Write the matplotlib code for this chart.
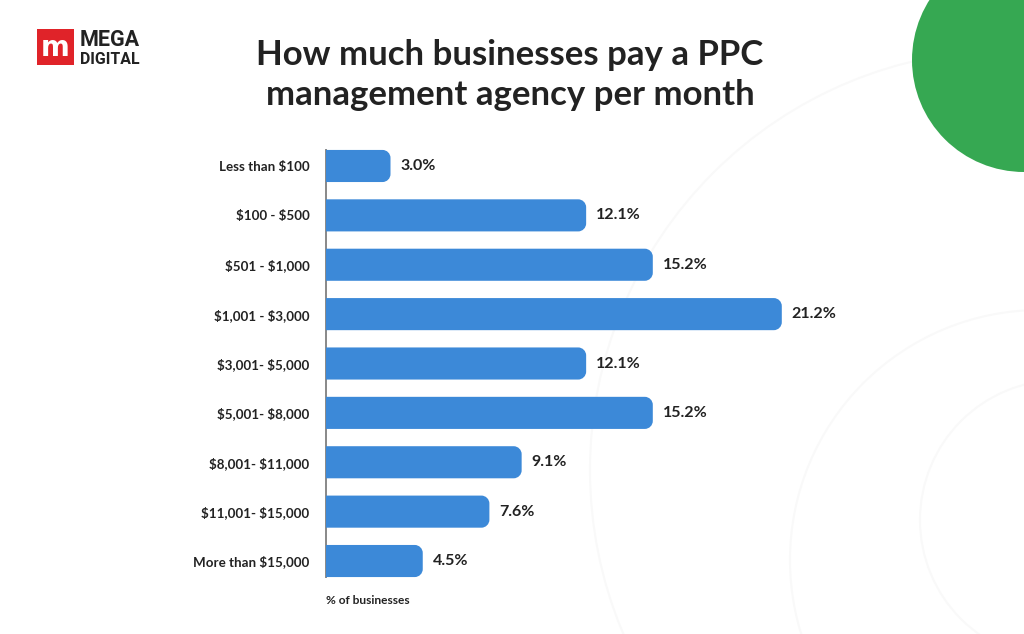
import matplotlib
matplotlib.use("Agg")
import matplotlib.pyplot as plt
from matplotlib.patches import Rectangle, Circle, PathPatch
from matplotlib.path import Path

plt.rcParams["text.parse_math"] = False

categories = ["Less than $100", "$100 - $500", "$501 - $1,000", "$1,001 - $3,000",
              "$3,001- $5,000", "$5,001- $8,000", "$8,001- $11,000",
              "$11,001- $15,000", "More than $15,000"]
values = [3.0, 12.1, 15.2, 21.2, 12.1, 15.2, 9.1, 7.6, 4.5]
value_labels = ["3.0%", "12.1%", "15.2%", "21.2%", "12.1%", "15.2%", "9.1%", "7.6%", "4.5%"]
title = "How much businesses pay a PPC\nmanagement agency per month"
xlabel = "% of businesses"

BAR = "#3C89D8"
GREEN = "#36A852"
TEXT = "#222222"
W, H = 1024, 634

fig = plt.figure(figsize=(W / 100, H / 100), dpi=100)
fig.patch.set_facecolor("white")

# background decoration axes (pixel coordinates)
bg = fig.add_axes([0, 0, 1, 1], zorder=0)
bg.set_xlim(0, W)
bg.set_ylim(H, 0)
bg.axis("off")
for (cx, cy, r) in [(1010, 470, 420), (1040, 560, 250), (1060, 520, 140)]:
    bg.add_patch(Circle((cx, cy), r, fill=False, ec="#f9f9f9", lw=1.5))
bg.add_patch(Circle((1024, 60), 112, color=GREEN, lw=0))

# logo
bg.add_patch(Rectangle((37, 29), 37, 36, color="#E02329", lw=0))
bg.text(55.5, 48, "m", color="white", fontsize=20, fontweight="bold",
        ha="center", va="center", family="DejaVu Sans")
bg.text(80, 40, "MEGA", color=TEXT, fontsize=15.5, fontweight="bold",
        ha="left", va="center", family="Roboto")
bg.text(80, 60, "DIGITAL", color=TEXT, fontsize=11.4, fontweight="bold",
        ha="left", va="center", family="Roboto")

# title
bg.text(510, 75, title, color=TEXT, fontsize=25, fontweight="bold",
        ha="center", va="center", family="Lato", linespacing=1.3)

# main chart axes
left_px, right_px = 326, 326 + 22 * 21.5
top_px, bot_px = 141.3, 585.7
ax = fig.add_axes([left_px / W, 1 - bot_px / H, (right_px - left_px) / W,
                   (bot_px - top_px) / H], zorder=1)
ax.set_xlim(0, 22)
ax.set_ylim(len(values) - 0.5, -0.5)
ax.patch.set_alpha(0)

bh = 0.65
rx = 8 / 21.5
ry = 8 / 49.4
k = 0.5523


def bar_path(v, yc):
    y0, y1 = yc - bh / 2, yc + bh / 2
    verts = [(0, y0), (v - rx, y0),
             (v - rx + k * rx, y0), (v, y0 + ry - k * ry), (v, y0 + ry),
             (v, y1 - ry),
             (v, y1 - ry + k * ry), (v - rx + k * rx, y1), (v - rx, y1),
             (0, y1), (0, y0)]
    codes = [Path.MOVETO, Path.LINETO,
             Path.CURVE4, Path.CURVE4, Path.CURVE4,
             Path.LINETO,
             Path.CURVE4, Path.CURVE4, Path.CURVE4,
             Path.LINETO, Path.CLOSEPOLY]
    return Path(verts, codes)


for i, v in enumerate(values):
    ax.add_patch(PathPatch(bar_path(v, i), fc=BAR, ec="none", zorder=3))
    ax.text(v + 0.45, i, value_labels[i], ha="left", va="center", fontsize=11.5,
            fontweight="bold", color=TEXT, family="Lato")

ax.set_yticks(range(len(categories)))
ax.set_yticklabels(categories, fontsize=9.6, color=TEXT, family="Lato", fontweight="bold")
ax.tick_params(axis="y", length=0, pad=12)
ax.set_xticks([])
for s in ["top", "right", "bottom"]:
    ax.spines[s].set_visible(False)
ax.spines["left"].set_color("#888888")
ax.spines["left"].set_linewidth(1.4)
ax.spines["left"].set_bounds(-bh / 2, len(values) - 1 + bh / 2)
ax.spines["left"].set_zorder(2)

bg.text(326, 600, xlabel, color=TEXT, fontsize=8.6, fontweight="bold",
        ha="left", va="center", family="Lato")

fig.savefig("out.png", dpi=100, facecolor="white")
